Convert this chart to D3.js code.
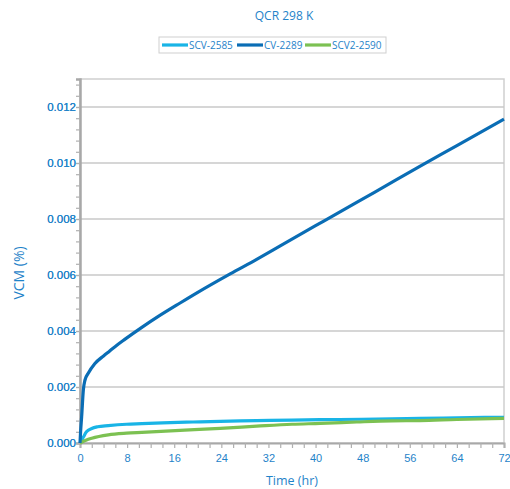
<!DOCTYPE html>
<html>
<head>
<meta charset="utf-8">
<script src="https://cdn.jsdelivr.net/npm/d3@7"></script>
<style>
  html, body { margin: 0; padding: 0; background: #fff; }
  svg { display: block; font-family: "Open Sans", sans-serif; }
</style>
</head>
<body>
<svg id="chart" width="510" height="489"></svg>
<script>
// Time axis (hr) and measured VCM (%) for each sample
const seriesNames = ["SCV-2585", "CV-2289", "SCV2-2590"];
const seriesColors = ["#19b4e6", "#0a6db5", "#7cc152"];

const scvTime = [0, 0.3, 0.6, 1.1, 2, 3, 4.8, 7.9, 10.5, 14, 19.2, 23.8, 30, 36, 44, 53, 57.7, 64, 72];
const scvValue = [0, 0.0001, 0.00022, 0.0004, 0.00052, 0.00058, 0.00062, 0.00067, 0.00069, 0.00072, 0.00075, 0.00077, 0.0008, 0.00082, 0.00084, 0.00086, 0.00088, 0.0009, 0.00092];

const cvTime = [0, 0.1, 0.28, 0.57, 0.85, 1.4, 2.5, 4, 5, 6, 7.6, 10.5, 13.3, 17, 20, 25.5, 30, 34, 40, 44, 50, 57.7, 64, 72];
const cvValue = [0, 0.0004, 0.00094, 0.0019, 0.00225, 0.00249, 0.00283, 0.00311, 0.00328, 0.00345, 0.0037, 0.00413, 0.00452, 0.005, 0.00538, 0.00604, 0.00656, 0.00704, 0.00776, 0.00824, 0.00895, 0.00988, 0.01062, 0.01157];

const scv2Time = [0, 1, 2, 4.8, 7.9, 10.5, 17.8, 23.8, 30, 36, 40.8, 47, 53, 57.7, 64, 72];
const scv2Value = [0, 0.0001, 0.00017, 0.00029, 0.00035, 0.00038, 0.00046, 0.00052, 0.0006, 0.00067, 0.0007, 0.00075, 0.00079, 0.0008, 0.00084, 0.00088];

const xTicks = [0, 8, 16, 24, 32, 40, 48, 56, 64, 72];
const yTicks = [0, 0.002, 0.004, 0.006, 0.008, 0.010, 0.012];

const textBlue = "#1f83c9";
const svg = d3.select("#chart");
const m = { left: 80, right: 504, top: 79, bottom: 443 };

const x = d3.scaleLinear().domain([0, 72]).range([m.left, m.right]);
const y = d3.scaleLinear().domain([0, 0.013]).range([m.bottom, m.top]);

// Plot frame
svg.append("rect")
  .attr("x", m.left).attr("y", m.top)
  .attr("width", m.right - m.left).attr("height", m.bottom - m.top)
  .attr("fill", "none").attr("stroke", "#cfcfcf").attr("stroke-width", 1.5);

// Horizontal gridlines
svg.append("g").selectAll("line")
  .data(yTicks.slice(1))
  .join("line")
  .attr("x1", m.left).attr("x2", m.right)
  .attr("y1", d => y(d)).attr("y2", d => y(d))
  .attr("stroke", "#c8c8c8").attr("stroke-width", 1.5);

// Axes
const xAxis = d3.axisBottom(x)
  .tickValues(d3.range(0, 72.1, 2))
  .tickSize(5)
  .tickFormat(d => xTicks.includes(d) ? d : "");
const gx = svg.append("g").attr("transform", `translate(0,${m.bottom})`).call(xAxis);
gx.select(".domain").attr("stroke", "#a8a8a8").attr("stroke-width", 2);
gx.selectAll(".tick line").attr("stroke", "#b0b0b0").attr("stroke-width", 1.2);
gx.selectAll(".tick text").attr("fill", textBlue).attr("font-size", 11).attr("dy", "1.0em");

const yAxis = d3.axisLeft(y)
  .tickValues(d3.range(0, 0.01301, 0.0004).concat(yTicks))
  .tickSize(4)
  .tickFormat(d => yTicks.some(t => Math.abs(t - d) < 1e-9) ? d3.format(".3f")(d) : "");
const gy = svg.append("g").attr("transform", `translate(${m.left},0)`).call(yAxis);
gy.select(".domain").attr("stroke", "#a8a8a8").attr("stroke-width", 2.5);
gy.selectAll(".tick line").attr("stroke", "#b0b0b0").attr("stroke-width", 1.2);
gy.selectAll(".tick text").attr("fill", textBlue).attr("font-size", 11.5).attr("x", -4);

// Series lines
const series = [
  { name: seriesNames[0], color: seriesColors[0], t: scvTime, v: scvValue },
  { name: seriesNames[1], color: seriesColors[1], t: cvTime, v: cvValue },
  { name: seriesNames[2], color: seriesColors[2], t: scv2Time, v: scv2Value }
];
const line = d3.line().x(d => x(d[0])).y(d => y(d[1])).curve(d3.curveMonotoneX);
[series[0], series[2], series[1]].forEach(s => {
  svg.append("path")
    .datum(d3.zip(s.t, s.v))
    .attr("d", line)
    .attr("fill", "none")
    .attr("stroke", s.color)
    .attr("stroke-width", 3.2)
    .attr("stroke-linejoin", "round");
});

// Title
svg.append("text")
  .attr("x", 284).attr("y", 20)
  .attr("text-anchor", "middle")
  .attr("fill", textBlue).attr("font-size", 12)
  .text("QCR 298 K");

// Legend
const lg = svg.append("g");
lg.append("rect")
  .attr("x", 159).attr("y", 37).attr("width", 227).attr("height", 16)
  .attr("fill", "#fff").attr("stroke", "#cfcfcf").attr("stroke-width", 1);
const legendX = [162, 237, 305];
series.forEach((s, i) => {
  lg.append("line")
    .attr("x1", legendX[i]).attr("x2", legendX[i] + 26)
    .attr("y1", 45).attr("y2", 45)
    .attr("stroke", s.color).attr("stroke-width", 3.2);
  lg.append("text")
    .attr("x", legendX[i] + 27).attr("y", 48.8)
    .attr("fill", textBlue).attr("font-size", 10)
    .text(s.name);
});

// Axis titles
svg.append("text")
  .attr("x", 292).attr("y", 485)
  .attr("text-anchor", "middle")
  .attr("fill", textBlue).attr("font-size", 12.5)
  .text("Time (hr)");
svg.append("text")
  .attr("transform", "translate(24,273) rotate(-90)")
  .attr("text-anchor", "middle")
  .attr("fill", textBlue).attr("font-size", 14)
  .text("VCM (%)");
</script>
</body>
</html>
